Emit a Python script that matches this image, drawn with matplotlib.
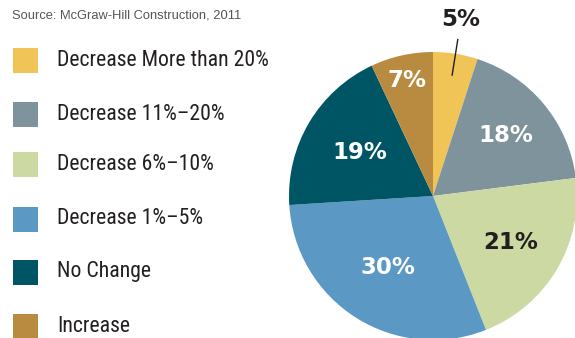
import numpy as np
import matplotlib
matplotlib.use("Agg")
import matplotlib.pyplot as plt
from matplotlib.font_manager import fontManager

categories = ["Decrease More than 20%", "Decrease 11%\u201320%", "Decrease 6%\u201310%",
              "Decrease 1%\u20135%", "No Change", "Increase"]
values = [5, 18, 21, 30, 19, 7]
colors = ["#F0C457", "#7F939C", "#CDD9A3", "#5B98C4", "#005565", "#B98B40"]
label_colors = ["#231F20", "white", "#231F20", "white", "white", "white"]
source = "Source: McGraw-Hill Construction, 2011"

names = {f.name for f in fontManager.ttflist}
narrow = None
for cand in ["Liberation Sans Narrow", "Roboto Condensed", "Open Sans Condensed",
             "DejaVu Sans Condensed"]:
    if cand in names:
        narrow = cand
        break
if narrow is None:
    narrow, legsize = "Liberation Sans", 13.6
else:
    legsize = 15.7

W, H = 575, 338
fig = plt.figure(figsize=(W / 100, H / 100), dpi=100)
ax = fig.add_axes([0, 0, 1, 1])

cx, cy, r = 433, H - 196, 144
wedges, _ = ax.pie(values, colors=colors, startangle=90, counterclock=False,
                   center=(cx, cy), radius=r, frame=True,
                   wedgeprops=dict(linewidth=0))
ax.set_xlim(0, W)
ax.set_ylim(0, H)
ax.set_aspect("equal")
ax.axis("off")

label_r = [1.24, 0.66, 0.63, 0.59, 0.59, 0.82]
for w, v, lr, lc in zip(wedges, values, label_r, label_colors):
    mid = np.deg2rad((w.theta1 + w.theta2) / 2)
    x = cx + lr * r * np.cos(mid)
    y = cy + lr * r * np.sin(mid)
    ax.text(x, y, f"{v}%", ha="center", va="center", color=lc,
            fontsize=16.5, fontweight="bold", family="DejaVu Sans")
    if lr > 1:
        ax.plot([cx + 0.85 * r * np.cos(mid), cx + 1.10 * r * np.cos(mid)],
                [cy + 0.85 * r * np.sin(mid), cy + 1.10 * r * np.sin(mid)],
                color="#231F20", lw=1)

# legend
ys = [60, 114, 164, 219, 272, 326]
for c, name, yy in zip(colors, categories, ys):
    ax.add_patch(plt.Rectangle((13, H - yy - 12.5), 25, 25, color=c, lw=0))
    ax.text(57, H - yy, name, ha="left", va="center", fontsize=legsize,
            color="#231F20", family=narrow)

ax.text(12, H - 15, source, ha="left", va="center", fontsize=9.3,
        color="#555555", family="Liberation Sans")

fig.savefig("out.png", dpi=100)
